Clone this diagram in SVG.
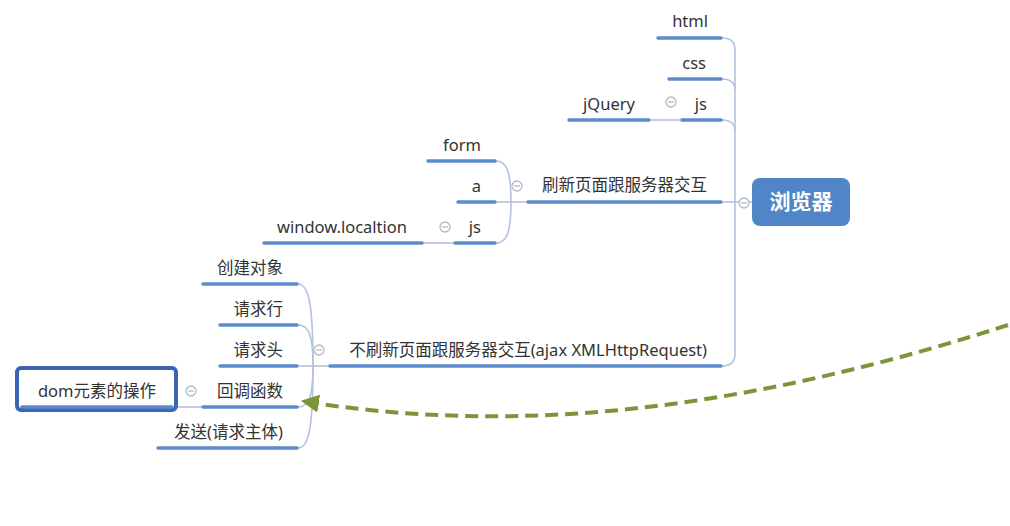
<svg xmlns="http://www.w3.org/2000/svg" width="1010" height="526" viewBox="0 0 1010 526">
<defs>
<style>
.t{font-family:"Noto Sans","Noto Sans CJK SC",sans-serif;font-size:16.5px;fill:#333;text-anchor:end}
.u{stroke:#5b8bcb;stroke-width:3.5;fill:none;stroke-linecap:round}
.c{stroke:#b3c3da;stroke-width:1.6;fill:none}
.col circle{fill:#fff;stroke:#b0bac6;stroke-width:1.3}
.col line{stroke:#b0bac6;stroke-width:1.3}
</style>
<marker id="ah" viewBox="0 0 10 10" refX="6" refY="5" markerWidth="4.5" markerHeight="4.5" orient="auto" markerUnits="strokeWidth">
<path d="M0,0 L10,5 L0,10 Z" fill="#7b963a"/>
</marker>
</defs>
<rect width="1010" height="526" fill="#fff"/>

<g id="connectors">
<path class="c" d="M722,38 Q735,38 735,50 L735,354 Q735,366 722,366"/>
<path class="c" d="M722,79 Q735,79 735,90"/>
<path class="c" d="M722,120 Q735,120 735,131"/>
<path class="c" d="M722,202 L752,202"/>
<path class="c" d="M650,120 L681,120"/>
<path class="c" d="M527,202 L496,202"/>
<path class="c" d="M511,202 C511,172 507,161 496,161"/>
<path class="c" d="M511,202 C511,232 507,243 496,243"/>
<path class="c" d="M423,243 L454,243"/>
<path class="c" d="M329,366 L298,366"/>
<path class="c" d="M313,366 C313,305 309,284 298,284"/>
<path class="c" d="M313,366 C313,336 309,325 298,325"/>
<path class="c" d="M313,366 C313,396 309,407 298,407"/>
<path class="c" d="M313,366 C313,427 309,448 298,448"/>
<path class="c" d="M177,407 L202,407"/>
<path d="M1008,325 C800,392 560,442 308,402" fill="none" stroke="#7b963a" stroke-width="4" stroke-dasharray="13,7" marker-end="url(#ah)"/>
</g>

<g id="browser">
<rect x="752" y="178" width="98" height="48" rx="8" fill="#5086c8"/>
<text x="801" y="209" font-family="Noto Sans CJK SC,sans-serif" font-size="21" font-weight="bold" fill="#fff" text-anchor="middle">浏览器</text>
<g class="col"><circle cx="744" cy="203" r="5"/><line x1="741" y1="203" x2="747" y2="203"/></g>
</g>

<g id="html"><text class="t" x="708" y="27">html</text><line class="u" x1="658" y1="38" x2="721" y2="38"/></g>
<g id="css"><text class="t" x="706" y="69">css</text><line class="u" x1="669" y1="79" x2="721" y2="79"/></g>
<g id="js1"><text class="t" x="707" y="110">js</text><line class="u" x1="682" y1="120" x2="721" y2="120"/>
<g class="col"><circle cx="671" cy="102" r="5"/><line x1="668" y1="102" x2="674" y2="102"/></g></g>
<g id="jquery"><text class="t" x="635" y="110">jQuery</text><line class="u" x1="569" y1="120" x2="649" y2="120"/></g>

<g id="refresh"><text class="t" x="707" y="191">刷新页面跟服务器交互</text><line class="u" x1="528" y1="202" x2="721" y2="202"/>
<g class="col"><circle cx="517" cy="186" r="5"/><line x1="514" y1="186" x2="520" y2="186"/></g></g>
<g id="form"><text class="t" x="481" y="151">form</text><line class="u" x1="428" y1="161" x2="495" y2="161"/></g>
<g id="a"><text class="t" x="481" y="192">a</text><line class="u" x1="458" y1="202" x2="495" y2="202"/></g>
<g id="js2"><text class="t" x="481" y="233">js</text><line class="u" x1="455" y1="243" x2="495" y2="243"/>
<g class="col"><circle cx="445" cy="227" r="5"/><line x1="442" y1="227" x2="448" y2="227"/></g></g>
<g id="window"><text class="t" x="407" y="233">window.localtion</text><line class="u" x1="264" y1="243" x2="422" y2="243"/></g>

<g id="ajax"><text class="t" x="707" y="356">不刷新页面跟服务器交互(ajax XMLHttpRequest)</text><line class="u" x1="330" y1="366" x2="721" y2="366"/>
<g class="col"><circle cx="319" cy="350" r="5"/><line x1="316" y1="350" x2="322" y2="350"/></g></g>
<g id="create"><text class="t" x="283" y="274">创建对象</text><line class="u" x1="203" y1="284" x2="297" y2="284"/></g>
<g id="reqline"><text class="t" x="283" y="315">请求行</text><line class="u" x1="220" y1="325" x2="297" y2="325"/></g>
<g id="reqhead"><text class="t" x="283" y="356">请求头</text><line class="u" x1="220" y1="366" x2="297" y2="366"/></g>
<g id="callback"><text class="t" x="283" y="397">回调函数</text><line class="u" x1="203" y1="407" x2="297" y2="407"/>
<g class="col"><circle cx="191" cy="391" r="5"/><line x1="188" y1="391" x2="194" y2="391"/></g></g>
<g id="send"><text class="t" x="283" y="438">发送(请求主体)</text><line class="u" x1="158" y1="448" x2="297" y2="448"/></g>

<g id="dom">
<rect x="17" y="368" width="159" height="42" rx="4" fill="#fff" stroke="#3d63b4" stroke-width="4"/>
<line class="u" x1="22" y1="407" x2="172" y2="407"/>
<text class="t" x="97" y="397" style="text-anchor:middle">dom元素的操作</text>
</g>
</svg>
